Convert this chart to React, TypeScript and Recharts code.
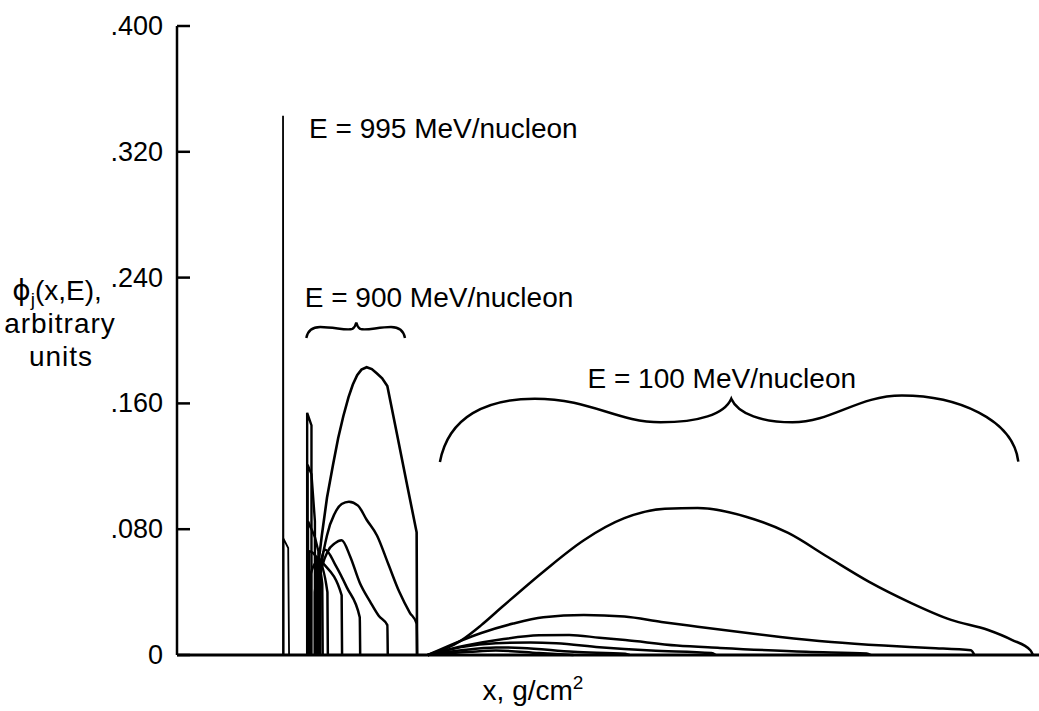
import React from 'react';
import { LineChart, Line, XAxis, YAxis } from 'recharts';

// chart box
const W = 1039;
const H = 711;
const TOP = 26;
const Y_AXIS_W = 177;
const X_AXIS_H = 56;
const X_MAX = 100;
const Y_MAX = 0.4;

const yTicks = [0, 0.08, 0.16, 0.24, 0.32, 0.4];
const yTickLabels = ['0', '.080', '.160', '.240', '.320', '.400'];

// E = 995 MeV/nucleon
const e995Spike: [number, number][] = [[12.3, 0], [12.3, 0.343], [12.35, 0]];
const e995Step: [number, number][] = [[12.35, 0], [12.35, 0.074], [12.9, 0.068], [13.0, 0]];

// E = 900 MeV/nucleon, narrow spikes
const e900n1: [number, number][] = [[15.1, 0], [15.1, 0.154], [15.6, 0.146], [15.6, 0]];
const e900n2: [number, number][] = [[15.15, 0], [15.15, 0.121], [15.6, 0.115], [16.0, 0.085], [16.0, 0]];
const e900n3: [number, number][] = [[15.2, 0], [15.2, 0.085], [16.0, 0.075], [16.4, 0.066], [16.4, 0]];

// E = 900 MeV/nucleon, humps
const e900h7: [number, number][] = [[15.3, 0], [15.32, 0.066], [16.2, 0.062], [16.85, 0.045], [16.9, 0]];
const e900h6: [number, number][] = [[15.4, 0], [15.42, 0.05], [16.4, 0.06], [17.45, 0.04], [17.5, 0]];
const e900h5: [number, number][] = [[16.2, 0], [16.22, 0.062], [17.0, 0.058], [19.1, 0.038], [19.15, 0]];
const e900h4: [number, number][] = [
  [16.4, 0], [16.42, 0.05], [17.2, 0.067], [18.4, 0.057], [19.7, 0.043], [21.2, 0.024], [21.25, 0],
];
const e900h3: [number, number][] = [
  [16.6, 0], [16.62, 0.05], [17.5, 0.066], [18.3, 0.071], [19.1, 0.073], [20.1, 0.0625], [21.2, 0.046],
  [22.4, 0.034], [23.4, 0.025], [24.4, 0.019], [24.45, 0],
];
const e900h2: [number, number][] = [
  [16.4, 0], [16.42, 0.04], [17.4, 0.076], [18.3, 0.09], [19.1, 0.096], [19.95, 0.0975], [21.0, 0.095],
  [22.0, 0.086], [23.2, 0.076], [24.5, 0.058], [25.8, 0.04], [27.0, 0.027], [27.8, 0.02], [27.85, 0],
];
const e900h1: [number, number][] = [
  [16.0, 0], [16.0, 0.04], [16.8, 0.076], [17.4, 0.1], [18.1, 0.121], [18.7, 0.138], [19.3, 0.152],
  [19.9, 0.164], [20.4, 0.172], [20.9, 0.178], [21.4, 0.1815], [22.0, 0.183], [22.6, 0.1818],
  [23.2, 0.179], [23.8, 0.176], [24.4, 0.171], [25.5, 0.141], [26.7, 0.108], [27.8, 0.078], [27.85, 0],
];

// E = 100 MeV/nucleon
const e100b1: [number, number][] = [
  [29.1, 0], [32.9, 0.009], [35.3, 0.019], [37.7, 0.0305], [42.5, 0.053], [47.2, 0.073],
  [51.9, 0.087], [56.6, 0.093], [60.4, 0.0935], [66.1, 0.0878], [70.9, 0.0776], [75.5, 0.0623],
  [80.3, 0.0465], [85.0, 0.0335], [89.8, 0.0223], [94.1, 0.0159], [96.9, 0.0095], [99.0, 0.003], [99.3, 0],
];
const e100b2: [number, number][] = [
  [29.1, 0], [32.9, 0.009], [35.3, 0.014], [39.0, 0.02], [42.5, 0.024], [47.2, 0.0255],
  [51.9, 0.0245], [56.2, 0.021], [60.4, 0.018], [66.2, 0.014], [70.0, 0.0115], [75.9, 0.0083],
  [82.0, 0.006], [87.4, 0.0045], [92.1, 0.003], [92.5, 0],
];
const e100b3: [number, number][] = [
  [29.1, 0], [33.5, 0.006], [37.7, 0.01], [42.0, 0.0125], [45.5, 0.0127], [49.0, 0.011],
  [52.0, 0.0095], [58.0, 0.006], [63.0, 0.0045], [73.0, 0.002], [80.0, 0.001], [80.5, 0],
];
const e100b4: [number, number][] = [
  [29.1, 0], [33.0, 0.005], [37.0, 0.0075], [41.0, 0.008], [44.0, 0.0075], [49.0, 0.005],
  [55.0, 0.0028], [62.0, 0.0012], [62.5, 0],
];
const e100b5: [number, number][] = [
  [29.1, 0], [33.0, 0.003], [37.0, 0.0048], [40.0, 0.0045], [46.0, 0.002], [52.0, 0.0008], [52.5, 0],
];
const e100b6: [number, number][] = [[29.1, 0], [34.0, 0.002], [37.0, 0.0028], [42.0, 0.0012], [46.0, 0]];

// drawn as straight segments
const polySeries = [e995Spike, e995Step, e900n1, e900n2, e900n3, e900h1];
// drawn smooth
const curveSeries = [
  e900h7, e900h6, e900h5, e900h4, e900h3, e900h2,
  e100b1, e100b2, e100b3, e100b4, e100b5, e100b6,
];

const FONT = '"Liberation Sans", Arial, Helvetica, sans-serif';

// same mapping as the chart, used only for annotations
const px = (x: number) => Y_AXIS_W + (x / X_MAX) * (W - Y_AXIS_W);
const py = (v: number) => TOP + (1 - v / Y_MAX) * (H - TOP - X_AXIS_H);

const YTick = (props: any) => {
  const { y, payload } = props;
  const i = yTicks.indexOf(payload.value);
  return (
    <g>
      <line x1={Y_AXIS_W} x2={Y_AXIS_W + 13} y1={y} y2={y} stroke="#000" strokeWidth={2.5} />
      <text x={163} y={y} dy={9} textAnchor="end" fontFamily={FONT} fontSize={27} fill="#000">
        {i >= 0 ? yTickLabels[i] : ''}
      </text>
    </g>
  );
};

function brace900() {
  const x1 = px(15.0), x2 = px(26.45), xm = px(20.8);
  const yEnd = py(0.2016), yFlat = py(0.2086), yTip = py(0.2115);
  return `M${x1},${yEnd} Q${x1 + 2},${yFlat} ${x1 + 14},${yFlat} C${xm - 22},${yFlat} ${xm - 10},${yFlat + 4} ${xm - 4},${yFlat + 2} Q${xm - 1},${yFlat} ${xm},${yTip} Q${xm + 1},${yFlat} ${xm + 4},${yFlat + 2} C${xm + 10},${yFlat + 4} ${xm + 22},${yFlat} ${x2 - 14},${yFlat} Q${x2 - 2},${yFlat} ${x2},${yEnd}`;
}

function brace100() {
  const p = (x: number, v: number) => `${px(x)},${py(v)}`;
  return [
    `M${p(30.5, 0.1227)}`,
    `C${p(31.5, 0.152)} ${p(36, 0.163)} ${p(41.5, 0.163)}`,
    `C${p(48, 0.163)} ${p(51, 0.148)} ${p(56.1, 0.148)}`,
    `C${p(60.5, 0.148)} ${p(63.5, 0.153)} ${p(64.3, 0.163)}`,
    `C${p(65.1, 0.153)} ${p(68, 0.148)} ${p(71.4, 0.148)}`,
    `C${p(76, 0.148)} ${p(79, 0.165)} ${p(84.1, 0.165)}`,
    `C${p(90.5, 0.165)} ${p(97, 0.15)} ${p(97.6, 0.123)}`,
  ].join(' ');
}

const lineProps = {
  dataKey: 'v',
  stroke: '#000',
  dot: false,
  activeDot: false,
  isAnimationActive: false,
} as const;

export default function App() {
  return (
    <div style={{ position: 'absolute', left: 0, top: 0, width: W, height: H, background: '#fff' }}>
      <LineChart width={W} height={H} margin={{ top: TOP, right: 0, bottom: 0, left: 0 }}>
        <XAxis
          type="number"
          dataKey="x"
          domain={[0, X_MAX]}
          height={X_AXIS_H}
          tick={false}
          tickLine={false}
          axisLine={{ stroke: '#000', strokeWidth: 3 }}
        />
        <YAxis
          type="number"
          domain={[0, Y_MAX]}
          ticks={yTicks}
          width={Y_AXIS_W}
          tickLine={false}
          tick={<YTick />}
          axisLine={{ stroke: '#000', strokeWidth: 2.5 }}
        />
        {polySeries.map((s, i) => (
          <Line
            key={'s' + i}
            {...lineProps}
            data={s.map(([x, v]) => ({ x, v }))}
            type="linear"
            strokeWidth={i < 2 ? 1.8 : i === 5 ? 2.6 : 2.4}
          />
        ))}
        {curveSeries.map((s, i) => (
          <Line
            key={'c' + i}
            {...lineProps}
            data={s.map(([x, v]) => ({ x, v }))}
            type="monotone"
            strokeWidth={2.5}
          />
        ))}
      </LineChart>
      <svg
        width={W}
        height={H}
        style={{ position: 'absolute', left: 0, top: 0, pointerEvents: 'none' }}
        fontFamily={FONT}
        fill="#000"
      >
        <text x={px(30.9)} y={py(0.329)} textAnchor="middle" fontSize={28}>E = 995 MeV/nucleon</text>
        <text x={px(30.4)} y={py(0.2213)} textAnchor="middle" fontSize={28}>E = 900 MeV/nucleon</text>
        <text x={px(63.2)} y={py(0.1698)} textAnchor="middle" fontSize={28}>E = 100 MeV/nucleon</text>
        <path d={brace900()} fill="none" stroke="#000" strokeWidth={2.4} />
        <path d={brace100()} fill="none" stroke="#000" strokeWidth={2.5} />
        <text x={57} y={300} textAnchor="middle" fontSize={28}>
          <tspan fontFamily='"DejaVu Sans", sans-serif'>ϕ</tspan>
          <tspan fontSize={19} dy={6}>j</tspan>
          <tspan dy={-6}>(x,E),</tspan>
        </text>
        <text x={60} y={333} textAnchor="middle" fontSize={28} letterSpacing={1}>arbitrary</text>
        <text x={61} y={366} textAnchor="middle" fontSize={28} letterSpacing={1}>units</text>
        <text x={533} y={700} textAnchor="middle" fontSize={28}>
          x, g/cm<tspan fontSize={19} dy={-11}>2</tspan>
        </text>
      </svg>
    </div>
  );
}
